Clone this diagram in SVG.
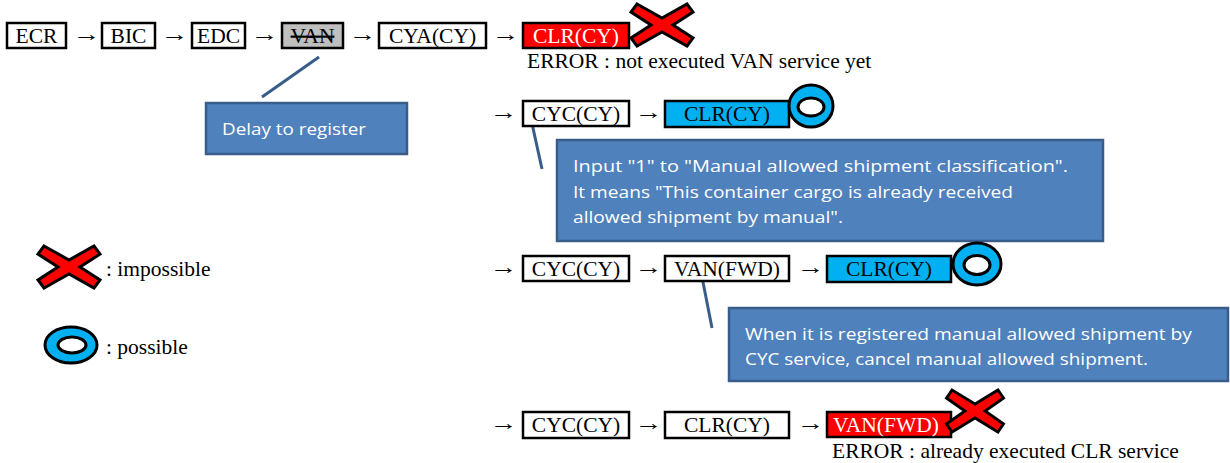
<svg xmlns="http://www.w3.org/2000/svg" width="1230" height="463" viewBox="0 0 1230 463">
<style>
.box{fill:#fff;stroke:#000;stroke-width:2.5}
.gray{fill:#BFBFBF;stroke:#000;stroke-width:2.5}
.red{fill:#FF0000;stroke:#000;stroke-width:2.5}
.blue{fill:#00B0F0;stroke:#000;stroke-width:2.5}
.t{font-family:"Liberation Serif","Times New Roman",serif;font-size:21.5px;fill:#000}
.a{font-family:"Liberation Serif","Times New Roman",serif;font-size:22px;fill:#000}
.w{fill:#fff}
.mid{text-anchor:middle}
.call{fill:#4F81BD;stroke:#385D8A;stroke-width:2.5}
.ct{font-family:"Open Sans","Liberation Sans",sans-serif;font-size:16.5px;fill:#fff}
.lead{stroke:#385D8A;stroke-width:3;fill:none}
.x{fill:#FF0000;stroke:#000;stroke-width:3;stroke-linejoin:miter}
.o{fill:#00B0F0;stroke:#000;stroke-width:3;fill-rule:evenodd}
</style>
<defs>
<polygon id="xs" points="-25,-21 0,-7 25,-21 31,-13 11,0 31,13 25,21 0,7 -25,21 -31,13 -11,0 -31,-13"/>
</defs>

<g id="connectors">
<text class="a" transform="translate(73,40.5) scale(1.25,1)">→</text>
<text class="a" transform="translate(161,40.5) scale(1.25,1)">→</text>
<text class="a" transform="translate(251,40.5) scale(1.25,1)">→</text>
<text class="a" transform="translate(349,40.5) scale(1.25,1)">→</text>
<text class="a" transform="translate(492,40.5) scale(1.25,1)">→</text>
<text class="a" transform="translate(490,118.5) scale(1.25,1)">→</text>
<text class="a" transform="translate(635,118.5) scale(1.25,1)">→</text>
<text class="a" transform="translate(490,273.5) scale(1.25,1)">→</text>
<text class="a" transform="translate(635,273.5) scale(1.25,1)">→</text>
<text class="a" transform="translate(797,273.5) scale(1.25,1)">→</text>
<text class="a" transform="translate(490,429.5) scale(1.25,1)">→</text>
<text class="a" transform="translate(635,429.5) scale(1.25,1)">→</text>
<text class="a" transform="translate(797,429.5) scale(1.25,1)">→</text>
<line class="lead" x1="319" y1="57" x2="262" y2="97"/>
<line class="lead" x1="531" y1="119" x2="542" y2="169"/>
<line class="lead" x1="702" y1="277" x2="712" y2="328"/>
</g>

<g id="ecr"><rect class="box" x="7" y="23" width="59" height="25"/><text class="t mid" x="36.5" y="43">ECR</text></g>
<g id="bic"><rect class="box" x="102" y="23" width="53" height="25"/><text class="t mid" x="128.5" y="43">BIC</text></g>
<g id="edc"><rect class="box" x="192" y="23" width="53" height="25"/><text class="t mid" x="218.5" y="43">EDC</text></g>
<g id="van"><rect class="gray" x="282" y="23" width="61" height="25"/><text class="t mid" x="312.5" y="43" text-decoration="line-through">VAN</text></g>
<g id="cya"><rect class="box" x="379" y="23" width="107" height="25"/><text class="t mid" x="432.5" y="43">CYA(CY)</text></g>
<g id="clr1"><rect class="red" x="523" y="23" width="106" height="25"/><text class="t w mid" x="576" y="43">CLR(CY)</text></g>
<g id="x1"><use href="#xs" class="x" transform="translate(662,25)"/></g>
<g id="err1"><text class="t" x="527" y="68">ERROR : not executed VAN service yet</text></g>

<g id="delay"><rect class="call" x="206" y="103" width="201" height="51"/><text class="ct" x="222" y="135" textLength="144" lengthAdjust="spacingAndGlyphs">Delay to register</text></g>

<g id="cyc2"><rect class="box" x="523" y="101" width="106" height="25"/><text class="t mid" x="576" y="121">CYC(CY)</text></g>
<g id="clr2"><rect class="blue" x="665" y="101" width="124" height="26"/><text class="t mid" x="727" y="121">CLR(CY)</text></g>
<g id="o2"><path class="o" d="M789,106 a22,21 0 1,0 44,0 a22,21 0 1,0 -44,0 Z M798,107 a13,9 0 1,0 26,0 a13,9 0 1,0 -26,0 Z"/></g>

<g id="note1"><rect class="call" x="557" y="140" width="546" height="101"/>
<text class="ct" x="573" y="172" textLength="495" lengthAdjust="spacingAndGlyphs">Input "1" to "Manual allowed shipment classification".</text>
<text class="ct" x="573" y="198" textLength="440" lengthAdjust="spacingAndGlyphs">It means "This container cargo is already received</text>
<text class="ct" x="573" y="223" textLength="270" lengthAdjust="spacingAndGlyphs">allowed shipment by manual".</text>
</g>

<g id="cyc3"><rect class="box" x="523" y="256" width="106" height="25"/><text class="t mid" x="576" y="276">CYC(CY)</text></g>
<g id="van3"><rect class="box" x="665" y="256" width="124" height="25"/><text class="t mid" x="727" y="276">VAN(FWD)</text></g>
<g id="clr3"><rect class="blue" x="827" y="256" width="124" height="26"/><text class="t mid" x="889" y="276">CLR(CY)</text></g>
<g id="o3"><path class="o" d="M953,264 a24,21 0 1,0 48,0 a24,21 0 1,0 -48,0 Z M964,265 a13,9.5 0 1,0 26,0 a13,9.5 0 1,0 -26,0 Z"/></g>

<g id="note2"><rect class="call" x="729" y="308" width="499" height="73"/>
<text class="ct" x="745" y="340" textLength="447" lengthAdjust="spacingAndGlyphs">When it is registered manual allowed shipment by</text>
<text class="ct" x="745" y="365" textLength="403" lengthAdjust="spacingAndGlyphs">CYC service, cancel manual allowed shipment.</text>
</g>

<g id="cyc4"><rect class="box" x="523" y="412" width="106" height="26"/><text class="t mid" x="576" y="432">CYC(CY)</text></g>
<g id="clr4"><rect class="box" x="665" y="412" width="124" height="26"/><text class="t mid" x="727" y="432">CLR(CY)</text></g>
<g id="van4"><rect class="red" x="827" y="412" width="124" height="25"/><text class="t w mid" x="886" y="432">VAN(FWD)</text></g>
<g id="x4"><use href="#xs" class="x" transform="translate(975,411) scale(0.92,1)"/></g>
<g id="err4"><text class="t" x="832" y="458">ERROR : already executed CLR service</text></g>

<g id="legend-x"><use href="#xs" class="x" transform="translate(69,267)"/><text class="t" x="106" y="276">: impossible</text></g>
<g id="legend-o"><path class="o" d="M45,345 a26,18 0 1,0 52,0 a26,18 0 1,0 -52,0 Z M58,345 a14,8 0 1,0 28,0 a14,8 0 1,0 -28,0 Z"/><text class="t" x="106" y="354">: possible</text></g>
</svg>
